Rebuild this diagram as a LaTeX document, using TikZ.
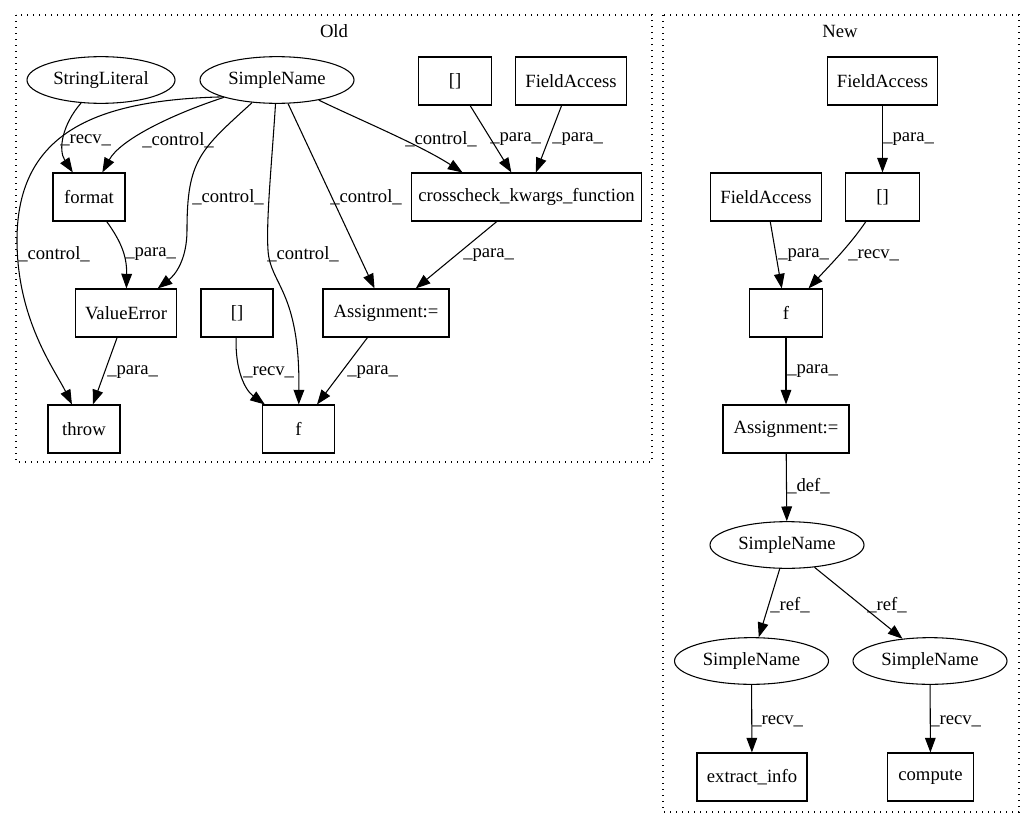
\documentclass[tikz,border=0pt]{standalone}
\usepackage{fontspec}
\setmainfont{Liberation Serif}
\usetikzlibrary{arrows.meta,shapes.geometric}
\begin{document}
\begin{tikzpicture}[x=0.75pt,y=-0.75pt,
  every node/.style={font=\fontsize{14}{16}\selectfont},
  box/.style={draw,line width=0.8pt,rectangle,minimum height=36pt,inner sep=0pt},
  ell/.style={draw,line width=0.8pt,ellipse,minimum height=35pt,inner sep=0pt},
  arr/.style={draw,line width=0.8pt,-{Triangle[length=11pt,width=8pt]}},
  lab/.style={anchor=west,inner sep=0pt},
  cluster/.style={draw,line width=0.9pt,dash pattern=on 0.9pt off 3.6pt}]
\useasboundingbox (0,0) rectangle (1035,828);
% clusters
\draw[cluster] (16,15) rectangle (652,462);
\draw[cluster] (663,15) rectangle (1019,812);
\node (told) at (334,31) {Old};
\node (tnew) at (840,31) {New};
% old nodes
\node[ell,minimum width=111pt] (strlit) at (101,80) {StringLiteral};
\node[ell,minimum width=115.5pt] (sno) at (277,80) {SimpleName};
\node[box,minimum width=55pt] (lbt) at (455,81) {[]};
\node[box,minimum width=83pt] (fao) at (571,81) {FieldAccess};
\node[box,minimum width=54pt] (fmt) at (89,197) {format};
\node[box,minimum width=173pt] (cc) at (526.5,197) {crosscheck\_kwargs\_function};
\node[box,minimum width=76pt] (ve) at (126,313) {ValueError};
\node[box,minimum width=54pt] (lbb) at (237,313) {[]};
\node[box,minimum width=94.5pt] (ao) at (386,313) {Assignment:=};
\node[box,minimum width=54pt] (thr) at (84,429) {throw};
\node[box,minimum width=54pt] (fo) at (298.5,429) {f};
% new nodes
\node[box,minimum width=83pt] (fan1) at (882.5,81) {FieldAccess};
\node[box,minimum width=83pt] (fan2) at (766,197) {FieldAccess};
\node[box,minimum width=55pt] (lbn) at (882.5,197) {[]};
\node[box,minimum width=55pt] (fn) at (786,313) {f};
\node[box,minimum width=94.5pt] (an) at (786,429) {Assignment:=};
\node[ell,minimum width=115.5pt] (snn) at (787,545) {SimpleName};
\node[ell,minimum width=115.5pt] (snl) at (751.5,661) {SimpleName};
\node[ell,minimum width=115.5pt] (snr) at (930,661) {SimpleName};
\node[box,minimum width=82.5pt] (ext) at (752,777) {extract\_info};
\node[box,minimum width=64pt] (cmp) at (930.5,777) {compute};
% old edges
\draw[arr] (strlit) .. controls (62,125) and (58,150) .. (fmt);
\draw[arr] (sno) .. controls (170,115) and (120,140) .. (fmt);
\draw[arr] (sno.south west) .. controls (100,100) and (17,130) .. (17,240) .. controls (17,320) and (55,370) .. (thr);
\draw[arr] (sno) .. controls (200,150) and (187,160) .. (187,230) .. controls (187,260) and (175,275) .. (ve);
\draw[arr] (sno) .. controls (272,160) and (266,220) .. (268,250) .. controls (270,285) and (300,290) .. (fo);
\draw[arr] (sno) -- (ao);
\draw[arr] (sno) .. controls (360,120) and (420,145) .. ([xshift=-48pt]cc.north);
\draw[arr] (lbt) -- (cc);
\draw[arr] (fao) -- (cc);
\draw[arr] (fmt) .. controls (120,240) and (127,255) .. (ve);
\draw[arr] (ve) -- (thr);
\draw[arr] (cc) -- (ao);
\draw[arr] (lbb) .. controls (235,370) and (245,390) .. (fo);
\draw[arr] (ao) -- (fo);
% new edges
\draw[arr] (fan1) -- (lbn);
\draw[arr] (fan2) -- (fn);
\draw[arr] (lbn) .. controls (850,245) and (830,265) .. (fn);
\draw[arr] (fn) -- (an);
\draw[arr] (an) -- (snn);
\draw[arr] (snn) -- (snl);
\draw[arr] (snn) -- (snr);
\draw[arr] (snl) -- (ext);
\draw[arr] (snr) -- (cmp);
% old labels
\node[lab] (l1) at (60,140) {\_recv\_};
\node[lab] (l2) at (142,140) {\_control\_};
\node[lab] (l3) at (18,254) {\_control\_};
\node[lab] (l4) at (192,197) {\_control\_};
\node[lab] (l5) at (267,254) {\_control\_};
\node[lab] (l6) at (330,197) {\_control\_};
\node[lab] (l7) at (405,139) {\_control\_};
\node[lab] (l8) at (490,139) {\_para\_};
\node[lab] (l9) at (552,139) {\_para\_};
\node[lab] (l10) at (125,254) {\_para\_};
\node[lab] (l11) at (107,372) {\_para\_};
\node[lab] (l12) at (463,255) {\_para\_};
\node[lab] (l13) at (243,372) {\_recv\_};
\node[lab] (l14) at (347,372) {\_para\_};
% new labels
\node[lab] (n1) at (883,139) {\_para\_};
\node[lab] (n2) at (778,255) {\_para\_};
\node[lab] (n3) at (848,255) {\_recv\_};
\node[lab] (n4) at (787,371) {\_para\_};
\node[lab] (n5) at (787,486) {\_def\_};
\node[lab] (n6) at (770,605) {\_ref\_};
\node[lab] (n7) at (867,605) {\_ref\_};
\node[lab] (n8) at (752,721) {\_recv\_};
\node[lab] (n9) at (930,721) {\_recv\_};
\end{tikzpicture}
\end{document}
